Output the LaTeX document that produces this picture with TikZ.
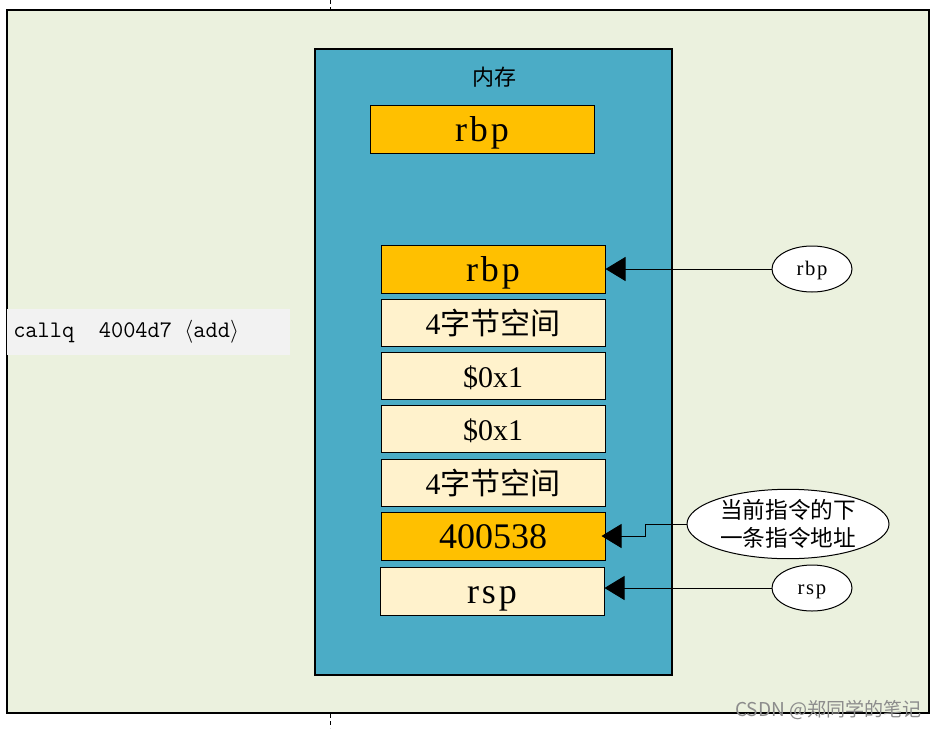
\documentclass[tikz,border=0pt]{standalone}
\usepackage{fontspec}
\setmainfont{Liberation Serif}
\newfontfamily\cjk{Noto Sans CJK SC}
\newfontfamily\widefont[LetterSpace=8]{Liberation Serif}
\usetikzlibrary{shapes.geometric,arrows.meta}
\definecolor{bgGreen}{HTML}{EBF1DE}
\definecolor{memBlue}{HTML}{4BACC6}
\definecolor{cellOrange}{HTML}{FFC000}
\definecolor{cellLight}{HTML}{FFF2CC}
\definecolor{codeGray}{HTML}{F2F2F2}
\tikzset{
  cell/.style={draw=black, line width=0.75pt, minimum width=224*0.75pt, minimum height=47*0.75pt, inner sep=0pt, text height=21pt, text depth=3pt},
  hot/.style={cell, fill=cellOrange},
  cool/.style={cell, fill=cellLight},
  bigtxt/.style={font=\fontsize{27}{30}\selectfont},
  midtxt/.style={font=\fontsize{22.5}{26}\selectfont},
  tag/.style={ellipse, draw=black, line width=0.75pt, fill=white, inner sep=0pt},
  smalltag/.style={tag, minimum width=80*0.75pt, minimum height=46*0.75pt, text height=11pt, text depth=2pt, font=\widefont\fontsize{15.5}{18}\selectfont},
  arr/.style={draw=black, line width=0.75pt, -{Triangle[length=15pt,width=18pt]}}
}
\begin{document}
\begin{tikzpicture}[x=0.75pt,y=-0.75pt]
\useasboundingbox (0,0) rectangle (938,728);
\fill[white] (0,0) rectangle (938,728);
% dashed guide line
\coordinate (gtop) at (330,0);
\coordinate (gbot) at (330,728);
\draw[black, line width=0.75pt, dash pattern=on 3pt off 2.25pt] (gtop) -- (gbot);
% outer frame
\node[draw=black, line width=1.1pt, fill=bgGreen, minimum width=922*0.75pt, minimum height=703*0.75pt, inner sep=0pt] (frame) at (468,361.5) {};
% code line
\node[fill=codeGray, minimum width=283*0.75pt, minimum height=46*0.75pt, inner sep=0pt] (codebg) at (148.5,332) {};
\node[anchor=west, inner sep=0pt, font=\ttfamily\fontsize{17.8}{20}\selectfont] (code) at (13,332) {callq\ \ 4004d7 $\langle$add$\rangle$};
% memory
\node[draw=black, line width=0.9pt, fill=memBlue, minimum width=357*0.75pt, minimum height=626*0.75pt, inner sep=0pt] (mem) at (493.5,362) {};
\node[font=\cjk\fontsize{16.5}{19}\selectfont, inner sep=0pt] (memlabel) at (494,77) {内存};
\node[hot, minimum height=48*0.75pt, bigtxt] (rbptop) at (482,129) {\widefont rbp};
% stack cells
\node[hot, minimum height=48*0.75pt, bigtxt] (s1) at (493,269) {\widefont rbp};
\node[cool, midtxt] (s2) at (493,322.5) {4{\cjk 字节空间}};
\node[cool, midtxt] (s3) at (493,375.5) {\$0x1};
\node[cool, midtxt] (s4) at (493,428.5) {\$0x1};
\node[cool, midtxt] (s5) at (493,482.5) {4{\cjk 字节空间}};
\node[hot, minimum height=48*0.75pt, bigtxt] (s6) at (493,536) {400538};
\node[cool, minimum height=48*0.75pt, bigtxt] (s7) at (492,591) {\widefont rsp};
% tags
\node[smalltag] (e1) at (812,269) {rbp};
\node[tag, minimum width=202*0.75pt, minimum height=64*0.75pt, align=center, font=\cjk\fontsize{17}{21}\selectfont] (e2) at (788,524) {当前指令的下\\一条指令地址};
\node[smalltag] (e3) at (812,588) {rsp};
% arrows
\draw[arr] (e1.west) -- (s1.east);
\coordinate (knee) at (645,524);
\draw[arr] (e2.west) -- (knee) |- ([xshift=-3pt]s6.east);
\draw[arr] (e3.west) -- (s7.east |- e3.west);
% watermark
\node[anchor=east, inner sep=0pt, text=black!45, font=\cjk\fontsize{14.3}{16}\selectfont] (wm) at (922,710) {CSDN @郑同学的笔记};
\end{tikzpicture}
\end{document}
